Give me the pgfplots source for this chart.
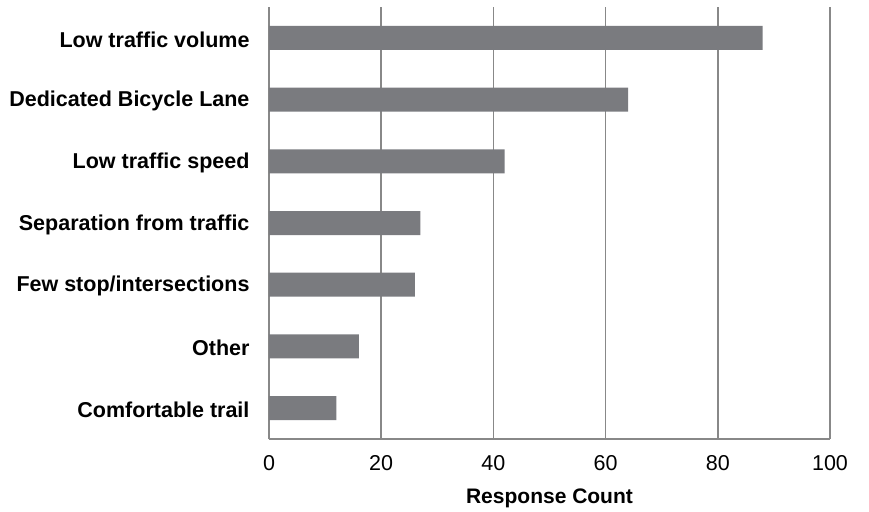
\documentclass[border=0pt]{standalone}
\usepackage{pgfplots}
\pgfplotsset{compat=1.18}
\usepackage{fontspec}
\setmainfont{Liberation Sans}
\definecolor{barc}{HTML}{7A7B7F}
\definecolor{gridc}{HTML}{888888}
\begin{document}
\begin{tikzpicture}
\useasboundingbox (-269bp,-73bp) rectangle (600bp,439bp);
\begin{axis}[
  at={(0,0)}, anchor=south west,
  scale only axis,
  width=561bp, height=432bp,
  xbar, bar width=24bp,
  xmin=0, xmax=100,
  ymin=-0.5, ymax=6.5,
  xtick={0,20,40,60,80,100},
  ytick={0,1,2,3,4,5,6},
  yticklabels={Comfortable trail,Other,Few stop/intersections,Separation from traffic,Low traffic speed,Dedicated Bicycle Lane,Low traffic volume},
  axis x line=bottom, axis y line=left,
  axis line style={gridc, line width=1.5bp, -},
  xmajorgrids, major grid style={gridc, line width=1.5bp},
  major tick length=0pt,
  /pgf/number format/assume math mode=true,
  xticklabel style={font=\fontsize{21.5bp}{24bp}\selectfont, yshift=-13bp},
  yticklabel style={font=\bfseries\fontsize{21.5bp}{24bp}\selectfont, xshift=-16bp, yshift=-1.5bp},
  xlabel={Response Count},
  xlabel style={font=\bfseries\fontsize{21bp}{24bp}\selectfont, at={(axis description cs:0.5,0)}, anchor=center, yshift=-59bp},
  clip=false,
]
\addplot[fill=barc, draw=none] coordinates {
  (12,0) (16,1) (26,2) (27,3) (42,4) (64,5) (88,6)
};
\end{axis}
\end{tikzpicture}
\end{document}
